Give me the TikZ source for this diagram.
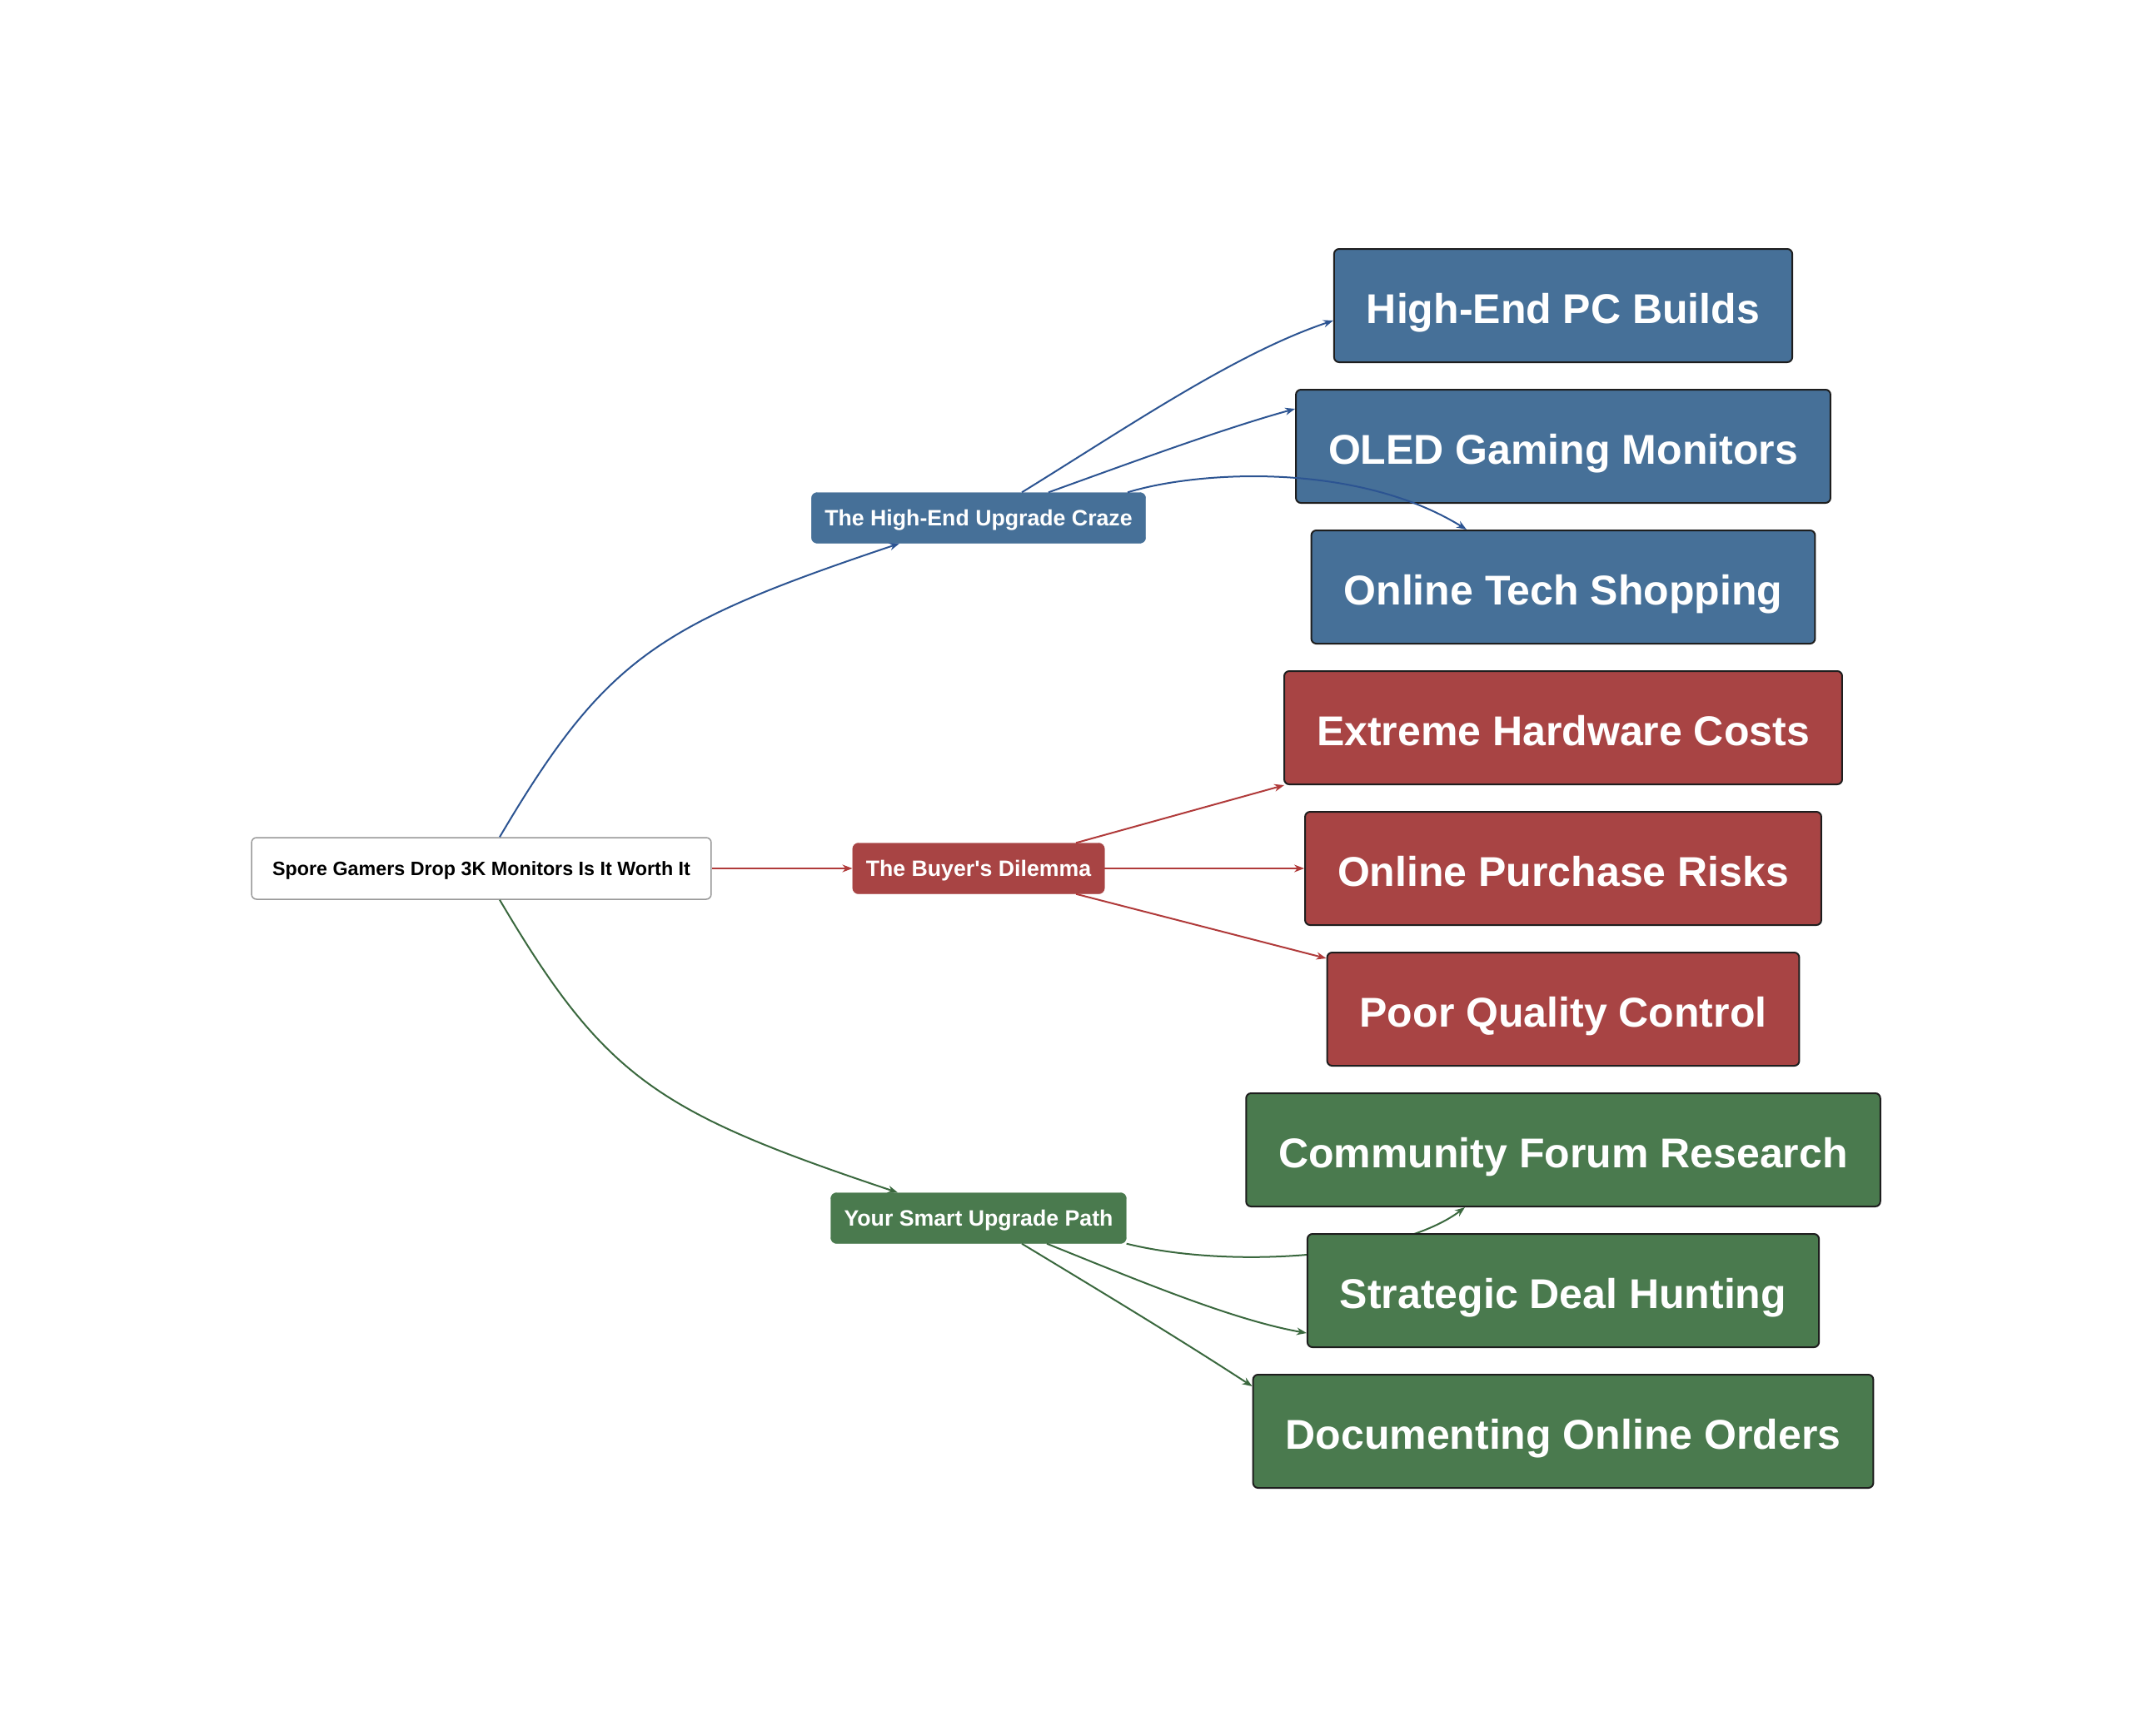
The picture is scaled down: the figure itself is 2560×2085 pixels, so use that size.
\documentclass[tikz,border=0pt]{standalone}
\usepackage{fontspec}
\setmainfont{Liberation Sans}[Ligatures=TeXOff]
\usetikzlibrary{arrows.meta}
\definecolor{cblue}{RGB}{70,112,152}
\definecolor{cred}{RGB}{168,68,68}
\definecolor{cgreen}{RGB}{74,122,78}
\definecolor{eblue}{RGB}{44,84,146}
\definecolor{ered}{RGB}{176,58,58}
\definecolor{egreen}{RGB}{58,104,62}
\definecolor{edark}{RGB}{30,30,30}
\begin{document}
\begin{tikzpicture}[x=1pt,y=-1pt,
  leaf/.style={draw=edark, line width=2pt, rounded corners=6pt, text=white,
    font=\fontsize{50}{60}\selectfont\bfseries, minimum height=136pt,
    text height=49.25pt, text depth=6.6pt,
    inner xsep=39pt, inner ysep=0pt},
  midbox/.style={rounded corners=7pt, text=white,
    font=\fontsize{26.7}{32}\selectfont\bfseries, minimum height=61pt,
    text height=24.66pt, text depth=5.16pt,
    inner xsep=16pt, inner ysep=0pt},
  rootbox/.style={draw=black!40, line width=1.5pt, fill=white, rounded corners=6pt,
    font=\fontsize{23.3}{28}\selectfont\bfseries, minimum height=74pt,
    text height=21.09pt, text depth=4.94pt,
    inner xsep=25pt, inner ysep=0pt},
  conn/.style={line width=2pt, -{Stealth[length=12pt,width=9pt]}}
]
\useasboundingbox (0,0) rectangle (2560,2085);
\fill[white] (0,0) rectangle (2560,2085);

% edge drawn behind nodes
\node[midbox, fill=cgreen, draw=cgreen] (smart) at (1175,1463) {Your Smart Upgrade Path};
\node[leaf, fill=cgreen] (cfr) at (1877,1381) {Community Forum Research};
\draw[conn, egreen] (smart.south east) .. controls (1480,1525) and (1680,1510) .. ([xshift=-118pt]cfr.south);

% nodes
\node[rootbox] (root) at (578,1043) {Spore Gamers Drop 3K Monitors Is It Worth It};
\node[midbox, fill=cblue, draw=cblue] (craze) at (1175,622) {The High-End Upgrade Craze};
\node[midbox, fill=cred, draw=cred] (buyer) at (1175,1043) {The Buyer's Dilemma};

\node[leaf, fill=cblue] (hepc) at (1877,367) {High-End PC Builds};
\node[leaf, fill=cblue] (oled) at (1877,536) {OLED Gaming Monitors};
\node[leaf, fill=cblue] (ots) at (1877,705) {Online Tech Shopping};
\node[leaf, fill=cred] (ehc) at (1877,874) {Extreme Hardware Costs};
\node[leaf, fill=cred] (opr) at (1877,1043) {Online Purchase Risks};
\node[leaf, fill=cred] (pqc) at (1877,1212) {Poor Quality Control};
\node[leaf, fill=cgreen] (sdh) at (1877,1550) {Strategic Deal Hunting};
\node[leaf, fill=cgreen] (doo) at (1877,1719) {Documenting Online Orders};

% edges from root
\draw[conn, eblue] ([xshift=22pt]root.north) .. controls (727,790) and (790,750) .. ([xshift=-95pt]craze.south);
\draw[conn, ered] (root.east) -- (buyer.west);
\draw[conn, egreen] ([xshift=22pt]root.south) .. controls (727,1296) and (790,1336) .. ([xshift=-97pt]smart.north);

% edges from craze
\draw[conn, eblue] ([xshift=52pt]craze.north) .. controls (1354,513) and (1484,424) .. ([yshift=-18pt]hepc.west);
\draw[conn, eblue] ([xshift=84pt]craze.north) .. controls (1357,556) and (1468,515) .. ([yshift=45pt]oled.west);
\draw[conn, eblue] ([xshift=179pt]craze.north) .. controls (1440,565) and (1630,555) .. ([xshift=-116pt]ots.north);

% edges from buyer
\draw[conn, ered] ([xshift=117pt]buyer.north) -- ([xshift=1pt]ehc.south west);
\draw[conn, ered] (buyer.east) -- (opr.west);
\draw[conn, ered] ([xshift=117pt]buyer.south) -- ([yshift=-8pt]pqc.north west);

% edges from smart
\draw[conn, egreen] ([xshift=82pt]smart.south) .. controls (1360,1535) and (1478,1585) .. ([yshift=-51pt]sdh.west);
\draw[conn, egreen] ([xshift=52pt]smart.south) .. controls (1320,1550) and (1413,1606) .. ([yshift=54pt]doo.west);
\end{tikzpicture}
\end{document}
